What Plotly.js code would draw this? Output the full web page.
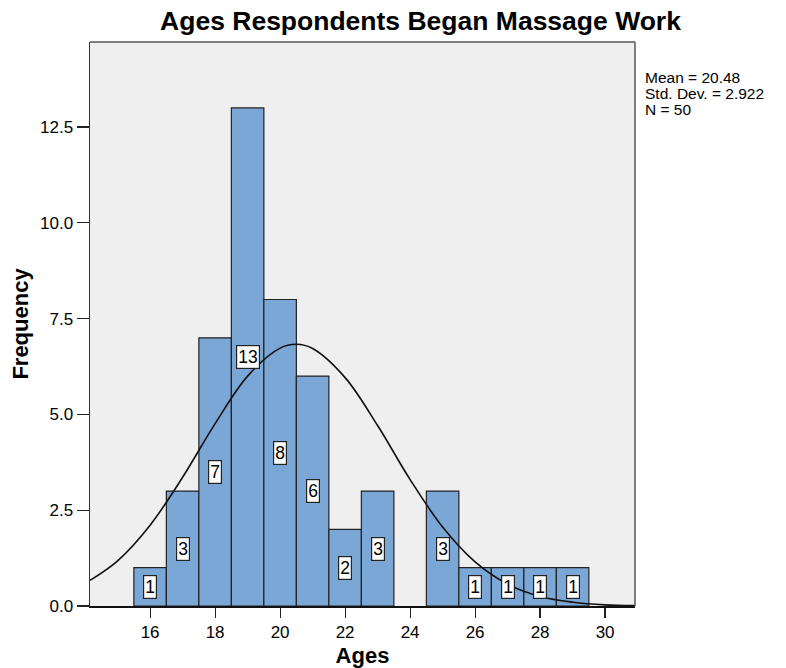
<!DOCTYPE html>
<html>
<head>
<meta charset="utf-8">
<script src="https://cdn.plot.ly/plotly-3.0.1.min.js"></script>
<style>html,body{margin:0;padding:0;background:#fff;}#chart{width:786px;height:668px;}</style>
</head>
<body>
<div id="chart"></div>
<script>
// Histogram bins (age) and counts
const ages = [16, 17, 18, 19, 20, 21, 22, 23, 24, 25, 26, 27, 28, 29];
const counts = [1, 3, 7, 13, 8, 6, 2, 3, 0, 3, 1, 1, 1, 1];
// Normal curve values
const curveX = [14.15, 15, 16, 17, 18, 19, 20, 20.5, 21, 22, 23, 24, 25, 26, 27, 28, 29, 30, 30.92];
const curveY = [0.67, 1.18, 2.11, 3.36, 4.76, 6.0, 6.73, 6.83, 6.72, 5.96, 4.71, 3.30, 2.06, 1.15, 0.57, 0.25, 0.10, 0.03, 0.01];
const statsLines = ["Mean = 20.48", "Std. Dev. = 2.922", "N = 50"];
const yTicks = [0, 2.5, 5, 7.5, 10, 12.5];
const xTicks = [16, 18, 20, 22, 24, 26, 28, 30];

const FONT = 'Liberation Sans, Arial, Helvetica, sans-serif';
const barAges = ages.filter((a, i) => counts[i] > 0);
const barCounts = counts.filter(c => c > 0);

const traces = [
  {
    type: 'bar', x: barAges, y: barCounts, width: 1,
    marker: {color: '#7BA7D6', line: {color: '#222', width: 1.2}},
    hoverinfo: 'x+y'
  },
  {
    type: 'scatter', mode: 'lines', x: curveX, y: curveY,
    line: {color: '#111', width: 1.6, shape: 'spline'}, hoverinfo: 'skip'
  }
];

const annotations = barAges.map((a, i) => ({
  x: a, y: barCounts[i] / 2, xref: 'x', yref: 'y',
  text: String(barCounts[i]), showarrow: false,
  font: {family: FONT, size: 17.5, color: '#000'},
  bgcolor: '#fff', bordercolor: '#222', borderwidth: 1.2, borderpad: 1
}));
const statsY = [0.9375, 0.9091, 0.8807];
statsLines.forEach((t, i) => annotations.push({
  x: 1.017, y: statsY[i], xref: 'paper', yref: 'paper', xanchor: 'left', yanchor: 'middle',
  align: 'left', showarrow: false, text: t, borderpad: 0,
  font: {family: FONT, size: 15.5, color: '#000'}
}));

const layout = {
  width: 786, height: 668,
  margin: {l: 90, r: 151, t: 42, b: 62},
  paper_bgcolor: '#fff', plot_bgcolor: '#EFEFEF',
  showlegend: false, bargap: 0,
  font: {family: FONT, color: '#000'},
  title: {text: '<b>Ages Respondents Began Massage Work</b>', x: 0.535, xanchor: 'center', y: 0.969, yanchor: 'middle',
          font: {size: 26.5, family: FONT}},
  xaxis: {
    range: [14.15, 30.92], tickvals: xTicks, ticktext: xTicks.map(String),
    ticks: 'outside', ticklen: 10, tickwidth: 1.2, tickcolor: '#222',
    showgrid: false, zeroline: false, showline: true, linecolor: '#111', linewidth: 1.8,
    tickfont: {size: 17}, fixedrange: true,
    title: {text: '<b>Ages</b>', font: {size: 22}, standoff: 6}
  },
  yaxis: {
    range: [0, 14.72], tickvals: yTicks, ticktext: yTicks.map(v => v.toFixed(1)),
    ticks: 'outside', ticklen: 12, tickwidth: 1.2, tickcolor: '#222',
    showgrid: false, zeroline: false, showline: true, linecolor: '#333', linewidth: 1.5,
    tickfont: {size: 17}, fixedrange: true,
    title: {text: '<b>Frequency</b>', font: {size: 22}, standoff: 5}
  },
  shapes: [
    {type: 'line', xref: 'paper', yref: 'paper', x0: 0, x1: 1, y0: 1, y1: 1, line: {color: '#555', width: 1.5}},
    {type: 'line', xref: 'paper', yref: 'paper', x0: 1, x1: 1, y0: 0, y1: 1, line: {color: '#555', width: 1.5}}
  ],
  annotations: annotations
};

Plotly.newPlot('chart', traces, layout, {displayModeBar: false, staticPlot: true});
</script>
</body>
</html>
